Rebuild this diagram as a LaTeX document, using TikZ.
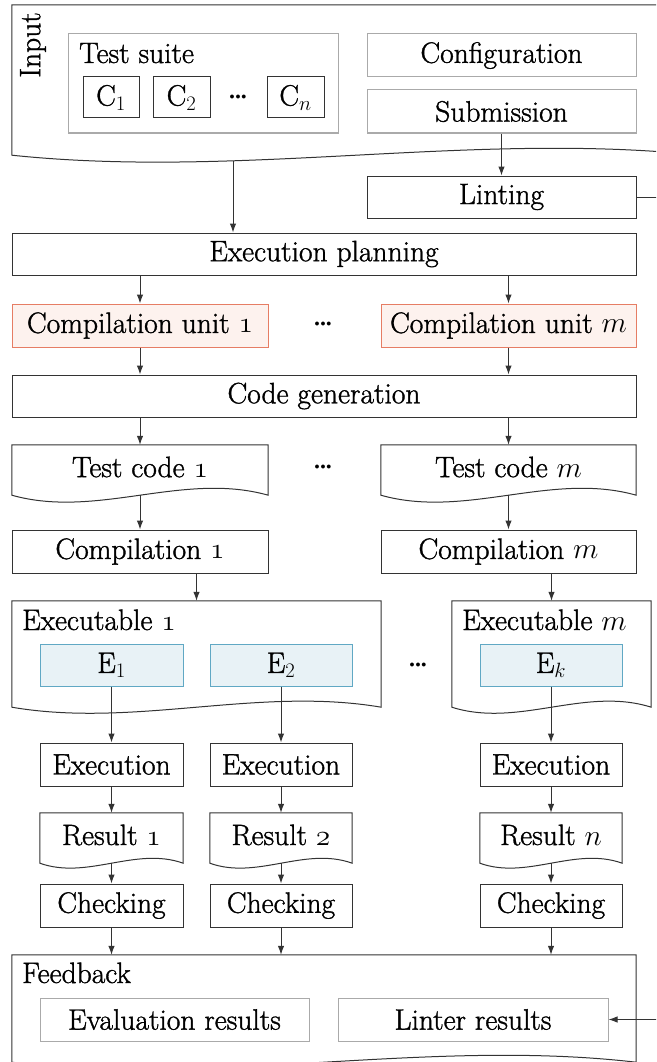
\documentclass[tikz,border=0pt]{standalone}
\usepackage{fix-cm}
\usepackage{fontspec}
\setmainfont{Latin Modern Roman}[RawFeature={embolden=1.2}]
\usetikzlibrary{calc,arrows.meta}
\definecolor{ln}{RGB}{51,51,51}
\definecolor{gb}{RGB}{170,170,170}
\definecolor{cub}{RGB}{230,125,100}
\definecolor{cuf}{RGB}{253,242,238}
\definecolor{eb}{RGB}{96,168,196}
\definecolor{ef}{RGB}{232,242,246}
\newcommand\osn[1]{{\usefont{OML}{cmm}{m}{it}#1}}
\newcommand\fsz{\fontsize{29.5}{33}\selectfont}
\newcommand\dts{{\fontsize{20}{20}\selectfont$\scriptscriptstyle\bullet\kern0.8pt\bullet\kern0.8pt\bullet$}}
\newcommand\docpath[2]{%
  \draw[docline] (#1.south west) -- (#1.north west) -- (#1.north east) -- (#1.south east)
    .. controls ($(#1.south east)!1/3!(#1.south west)+(0,#2)$) and ($(#1.south east)!2/3!(#1.south west)+(0,-#2)$) .. (#1.south west) -- cycle;}
\begin{document}
\begin{tikzpicture}[x=1pt,y=1pt,
  every node/.style={font=\fsz, inner sep=0pt, text=black},
  bx/.style={draw=ln, line width=1pt},
  gbx/.style={draw=gb, line width=1pt},
  cubx/.style={draw=cub, fill=cuf, line width=1pt},
  ebx/.style={draw=eb, fill=ef, line width=1pt},
  doc/.style={draw=none},
  docline/.style={draw=ln, line width=1pt},
  arr/.style={draw=ln, line width=1pt, -{Latex[length=9pt,width=6.5pt]}},
  sz/.style 2 args={minimum width=#1pt, minimum height=#2pt},
]
\useasboundingbox (0,0) rectangle (656,-1062);
\clip (0,0) rectangle (656,-1062);

% Input
\node[doc, sz={688}{150}] (input) at (356,-80) {};
\docpath{input}{24}
\node[rotate=90] (inlbl) at (33,-45) {Input};
\node[gbx, sz={270}{99}] (suite) at (203,-83.5) {};
\node[anchor=base west] (suitelbl) at (79,-63) {Test suite};
\node[bx, sz={56}{41}] (c1) at (111,-97.5) {C$_1$};
\node[bx, sz={57}{41}] (c2) at (181.5,-97.5) {C$_2$};
\node (cd1) at (238,-97) {\dts};
\node[bx, sz={57}{41}] (cn) at (295.5,-97.5) {C$_n$};
\node[gbx, sz={269}{43}] (config) at (501.5,-55.5) {Configuration};
\node[gbx, sz={269}{43}] (subm) at (501.5,-111.5) {Submission};
\node[bx, sz={269}{42}] (lint) at (501.5,-197) {Linting};

\coordinate (inbot) at (233,-161);
\node[bx, sz={624}{42}] (plan) at (324,-254) {Execution planning};

\node[cubx, sz={256}{43}] (cu1) at (140,-325.5) {Compilation unit \osn{1}};
\node (cd2) at (323,-324) {\dts};
\node[cubx, sz={255}{43}] (cum) at (508.5,-325.5) {Compilation unit $m$};

\node[bx, sz={624}{42}] (gen) at (324,-396) {Code generation};

\node[doc, sz={256}{50}] (tc1) at (140,-470) {};
\docpath{tc1}{24}
\node (tc1t) at (140,-467) {Test code \osn{1}};
\node (cd3) at (323,-467) {\dts};
\node[doc, sz={255}{50}] (tcm) at (508.5,-470) {};
\docpath{tcm}{24}
\node (tcmt) at (508.5,-467) {Test code $m$};

\node[bx, sz={256}{43}] (comp1) at (140,-551.5) {Compilation \osn{1}};
\node[bx, sz={255}{43}] (compm) at (508.5,-551.5) {Compilation $m$};

\node[doc, sz={369}{106}] (exe1) at (196.5,-654) {};
\docpath{exe1}{21}
\node[anchor=base west] (exe1l) at (22,-630) {Executable \osn{1}};
\node[doc, sz={199}{106}] (exem) at (551.5,-654) {};
\docpath{exem}{21}
\node[anchor=base west] (exeml) at (462,-630) {Executable $m$};

\node[ebx, sz={143}{42}] (e1) at (111.5,-665) {E$_1$};
\node[ebx, sz={142}{42}] (e2) at (281,-665) {E$_2$};
\node (cd4) at (418,-665) {\dts};
\node[ebx, sz={142}{42}] (ek) at (551,-665) {E$_k$};

\node[bx, sz={143}{43}] (run1) at (111.5,-764.5) {Execution};
\node[bx, sz={142}{43}] (run2) at (281,-764.5) {Execution};
\node[bx, sz={142}{43}] (runk) at (551,-764.5) {Execution};

\node[doc, sz={143}{50}] (res1) at (111.5,-838) {};
\docpath{res1}{17}
\node (res1t) at (111.5,-835) {Result \osn{1}};
\node[doc, sz={142}{50}] (res2) at (281,-838) {};
\docpath{res2}{17}
\node (res2t) at (281,-835) {Result \osn{2}};
\node[doc, sz={142}{50}] (resn) at (551,-838) {};
\docpath{resn}{17}
\node (resnt) at (551,-835) {Result $n$};

\node[bx, sz={143}{43}] (chk1) at (111.5,-905.5) {Checking};
\node[bx, sz={142}{43}] (chk2) at (281,-905.5) {Checking};
\node[bx, sz={142}{43}] (chkk) at (551,-905.5) {Checking};

\node[doc, sz={624}{107}] (fb) at (324,-1008.5) {};
\docpath{fb}{24}
\node[anchor=base west] (fbl) at (22,-983) {Feedback};
\node[gbx, sz={269}{43}] (evalr) at (174.5,-1019.5) {Evaluation results};
\node[gbx, sz={270}{43}] (lintr) at (473,-1019.5) {Linter results};

% connectors
\draw[arr] (inbot) -- (inbot |- plan.north);
\draw[arr] (subm.south) -- (lint.north);
\draw[arr] (lint.east) -- ++(40,0) |- (lintr.east);
\draw[arr] (plan.south -| cu1.north) -- (cu1.north);
\draw[arr] (plan.south -| cum.north) -- (cum.north);
\draw[arr] (cu1.south) -- (gen.north -| cu1.south);
\draw[arr] (cum.south) -- (gen.north -| cum.south);
\draw[arr] (gen.south -| tc1.north) -- (tc1.north);
\draw[arr] (gen.south -| tcm.north) -- (tcm.north);
\draw[arr] (tc1.south) -- (comp1.north);
\draw[arr] (tcm.south) -- (compm.north);
\draw[arr] (comp1.south -| exe1.north) -- (exe1.north);
\draw[arr] (compm.south -| exem.north) -- (exem.north);
\draw[arr] (e1.south) -- (run1.north);
\draw[arr] (e2.south) -- (run2.north);
\draw[arr] (ek.south) -- (runk.north);
\draw[arr] (run1.south) -- (res1.north);
\draw[arr] (run2.south) -- (res2.north);
\draw[arr] (runk.south) -- (resn.north);
\draw[arr] (res1.south) -- (chk1.north);
\draw[arr] (res2.south) -- (chk2.north);
\draw[arr] (resn.south) -- (chkk.north);
\draw[arr] (chk1.south) -- (fb.north -| chk1.south);
\draw[arr] (chk2.south) -- (fb.north -| chk2.south);
\draw[arr] (chkk.south) -- (fb.north -| chkk.south);
\end{tikzpicture}
\end{document}
